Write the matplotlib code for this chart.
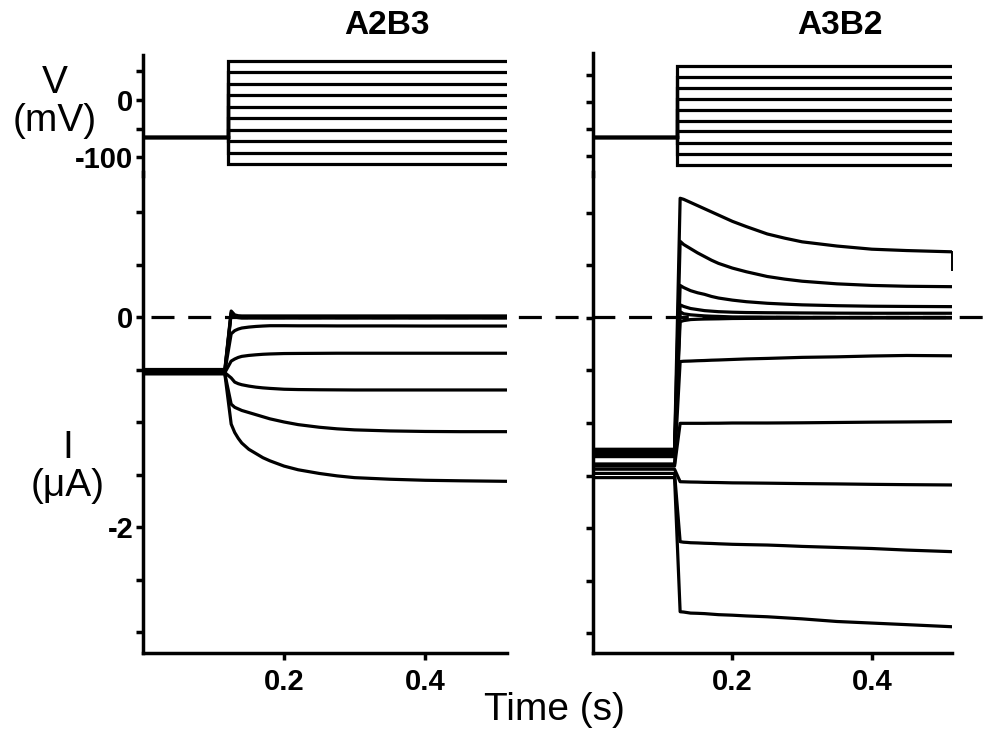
import matplotlib
matplotlib.use('Agg')
import matplotlib.pyplot as plt
from matplotlib.transforms import blended_transform_factory

plt.rcParams['font.family'] = ['Liberation Sans', 'DejaVu Sans']

# ---------------- data ----------------
panel_titles = ['A2B3', 'A3B2']

# voltage protocol (mV)
v_time_left = [0.0, 0.1206, 0.1206, 0.516]
v_hold_left = -64
v_steps_left = [68, 48, 28, 8, -12, -32, -52, -72, -92, -112]

v_time_right = [0.0, 0.121, 0.121, 0.515]
v_hold_right = -65
v_steps_right = [68, 46, 26, 6, -14, -35, -54, -75, -96, -116]

v_ticks = [50, 0, -50, -100]
v_ticklabels_left = ['', '0', '', '-100']

# current traces (uA)
i_time_left = [0.0, 0.116, 0.125, 0.13, 0.135, 0.14, 0.15, 0.16, 0.17, 0.18, 0.2, 0.22,
               0.25, 0.275, 0.3, 0.35, 0.4, 0.45, 0.516]
i_left_1 = [-0.50, -0.50, 0.057, 0.02, 0.012, 0.01, 0.01, 0.01, 0.01, 0.01, 0.01, 0.01,
            0.01, 0.01, 0.01, 0.01, 0.01, 0.01, 0.01]
i_left_2 = [-0.51, -0.51, 0.04, 0.01, 0.004, 0.0, 0.0, 0.0, 0.0, 0.0, 0.0, 0.0,
            0.0, 0.0, 0.0, 0.0, 0.0, 0.0, 0.0]
i_left_3 = [-0.52, -0.52, 0.03, 0.0, -0.006, -0.01, -0.01, -0.01, -0.01, -0.01, -0.01, -0.01,
            -0.01, -0.01, -0.01, -0.01, -0.01, -0.01, -0.01]
i_left_4 = [-0.52, -0.52, -0.16, -0.13, -0.115, -0.105, -0.096, -0.09, -0.086, -0.083, -0.083, -0.084,
            -0.084, -0.085, -0.085, -0.085, -0.086, -0.086, -0.086]
i_left_5 = [-0.53, -0.53, -0.42, -0.40, -0.385, -0.375, -0.366, -0.36, -0.355, -0.352, -0.348, -0.347,
            -0.346, -0.345, -0.345, -0.345, -0.345, -0.345, -0.345]
i_left_6 = [-0.53, -0.53, -0.58, -0.62, -0.635, -0.645, -0.658, -0.668, -0.675, -0.68, -0.688, -0.691,
            -0.693, -0.694, -0.695, -0.695, -0.695, -0.695, -0.695]
i_left_7 = [-0.54, -0.54, -0.83, -0.86, -0.875, -0.89, -0.91, -0.93, -0.95, -0.97, -1.00, -1.025,
            -1.05, -1.065, -1.075, -1.085, -1.09, -1.092, -1.092]
i_left_8 = [-0.54, -0.54, -1.02, -1.10, -1.155, -1.20, -1.26, -1.30, -1.34, -1.37, -1.42, -1.455,
            -1.49, -1.513, -1.53, -1.545, -1.555, -1.56, -1.565]
i_traces_left = [i_left_1, i_left_2, i_left_3, i_left_4, i_left_5, i_left_6, i_left_7, i_left_8]

i_time_right = [0.0, 0.117, 0.125, 0.13, 0.135, 0.14, 0.15, 0.16, 0.17, 0.18, 0.2, 0.22,
                0.25, 0.275, 0.3, 0.35, 0.4, 0.45, 0.515]
i_right_1 = [-1.25, -1.25, 1.14, 1.13, 1.115, 1.10, 1.07, 1.04, 1.01, 0.98, 0.92, 0.87,
             0.80, 0.76, 0.725, 0.685, 0.655, 0.642, 0.63]
i_right_2 = [-1.27, -1.27, 0.73, 0.70, 0.68, 0.66, 0.62, 0.585, 0.55, 0.52, 0.475, 0.44,
             0.395, 0.37, 0.35, 0.325, 0.31, 0.302, 0.298]
i_right_3 = [-1.29, -1.29, 0.31, 0.29, 0.275, 0.26, 0.24, 0.225, 0.205, 0.19, 0.17, 0.155,
             0.14, 0.132, 0.125, 0.117, 0.112, 0.11, 0.108]
i_right_4 = [-1.30, -1.30, 0.125, 0.11, 0.10, 0.09, 0.08, 0.07, 0.065, 0.06, 0.055, 0.052,
             0.05, 0.049, 0.048, 0.046, 0.045, 0.045, 0.045]
i_right_5 = [-1.31, -1.31, 0.06, 0.04, 0.035, 0.03, 0.025, 0.02, 0.017, 0.015, 0.01, 0.009,
             0.008, 0.007, 0.006, 0.005, 0.005, 0.005, 0.005]
i_right_6 = [-1.32, -1.32, -0.035, -0.025, -0.02, -0.015, -0.012, -0.01, -0.009, -0.008, -0.005, -0.004,
             -0.003, -0.002, -0.002, 0.0, 0.0, 0.0, 0.0]
i_right_7 = [-1.39, -1.39, -0.415, -0.412, -0.411, -0.41, -0.407, -0.405, -0.402, -0.40, -0.395, -0.39,
             -0.385, -0.38, -0.375, -0.37, -0.362, -0.357, -0.36]
i_right_8 = [-1.41, -1.41, -1.003, -1.003, -1.003, -1.003, -1.003, -1.003, -1.002, -1.002, -1.0, -1.0,
             -1.0, -0.999, -0.998, -0.995, -0.992, -0.99, -0.987]
i_right_9 = [-1.44, -1.44, -1.559, -1.56, -1.561, -1.562, -1.563, -1.565, -1.566, -1.567, -1.57, -1.571,
             -1.573, -1.575, -1.577, -1.58, -1.584, -1.587, -1.59]
i_right_10 = [-1.48, -1.48, -2.13, -2.135, -2.137, -2.14, -2.142, -2.145, -2.147, -2.15, -2.155, -2.158,
              -2.162, -2.168, -2.175, -2.185, -2.195, -2.21, -2.225]
i_right_11 = [-1.52, -1.52, -2.797, -2.80, -2.805, -2.81, -2.812, -2.815, -2.82, -2.825, -2.83, -2.837,
              -2.845, -2.855, -2.865, -2.89, -2.905, -2.92, -2.94]
i_traces_right = [i_right_1, i_right_2, i_right_3, i_right_4, i_right_5, i_right_6,
                  i_right_7, i_right_8, i_right_9, i_right_10, i_right_11]
# end-of-sweep artefact on the largest A3B2 trace
i_tail_time_right = [0.515, 0.515]
i_tail_right = [0.63, 0.455]

i_ticks = [1.0, 0.5, 0.0, -0.5, -1.0, -1.5, -2.0, -2.5, -3.0]
i_ticklabels_left = ['', '', '0', '', '', '', '-2', '', '']
t_ticks = [0.2, 0.4]
t_ticklabels = ['0.2', '0.4']

# ---------------- figure ----------------
W, H = 987, 734
fig = plt.figure(figsize=(W / 100, H / 100), dpi=100)


def fx(px):
    return px / W


def fy(py):
    return 1 - py / H


LW = 2.3
SPW = 2.5
TICKFS = 21


def style_axes(ax, bottom=True):
    for s in ['top', 'right']:
        ax.spines[s].set_visible(False)
    ax.spines['left'].set_linewidth(SPW)
    ax.spines['bottom'].set_linewidth(SPW)
    if not bottom:
        ax.spines['bottom'].set_visible(False)
        ax.tick_params(axis='x', bottom=False, labelbottom=False)
    ax.tick_params(axis='both', length=5, width=SPW, pad=2, labelsize=TICKFS)
    for lab in ax.get_xticklabels() + ax.get_yticklabels():
        lab.set_fontweight('bold')
    ax.set_facecolor('none')


VBOT = 176  # voltage axes overlap the current axes slightly so the spine is continuous
cols = [
    dict(x0=143, x1=507, vtop=55, vlim=(-132.4, 78.4), ilim=(-3.2, 1.381), xlim=(0, 0.516),
         vt=v_time_left, vh=v_hold_left, vs=v_steps_left, vlab=v_ticklabels_left,
         it=i_time_left, itr=i_traces_left, ilab=i_ticklabels_left, title=panel_titles[0], tx=387),
    dict(x0=593, x1=952, vtop=53, vlim=(-136.4, 91.3), ilim=(-3.19, 1.39), xlim=(0, 0.515),
         vt=v_time_right, vh=v_hold_right, vs=v_steps_right, vlab=None,
         it=i_time_right, itr=i_traces_right, ilab=None, title=panel_titles[1], tx=840),
]

axes_I = []
for c in cols:
    # current axes
    axI = fig.add_axes([fx(c['x0']), fy(653), fx(c['x1'] - c['x0']), (653 - 172) / H])
    for tr in c['itr']:
        axI.plot(c['it'], tr, color='black', lw=LW)
    axI.set_xlim(*c['xlim'])
    axI.set_ylim(*c['ilim'])
    axI.set_yticks(i_ticks)
    axI.set_yticklabels(c['ilab'] if c['ilab'] else [''] * len(i_ticks))
    axI.set_xticks(t_ticks)
    axI.set_xticklabels(t_ticklabels)
    style_axes(axI, bottom=True)
    axI.tick_params(axis='x', pad=6)
    axes_I.append(axI)

    # voltage axes
    axV = fig.add_axes([fx(c['x0']), fy(VBOT), fx(c['x1'] - c['x0']), (VBOT - c['vtop']) / H])
    for v in c['vs']:
        axV.plot(c['vt'], [c['vh'], c['vh'], v, v], color='black', lw=LW, solid_joinstyle='miter')
    axV.set_xlim(*c['xlim'])
    axV.set_ylim(*c['vlim'])
    axV.set_yticks(v_ticks)
    axV.set_yticklabels(c['vlab'] if c['vlab'] else [''] * len(v_ticks))
    style_axes(axV, bottom=False)

    fig.text(fx(c['tx']), fy(26), c['title'], ha='center', va='center',
             fontsize=24, fontweight='bold')

axes_I[1].plot(i_tail_time_right, i_tail_right, color='black', lw=1.4, clip_on=False)

# dashed zero-current line across the figure
trans = blended_transform_factory(fig.transFigure, axes_I[0].transData)
axes_I[0].plot([fx(151), 1.0], [0, 0], transform=trans, color='black', lw=LW,
               ls=(0, (7.2, 4.3)), clip_on=False)

# axis labels
fig.text(fx(55), fy(102), 'V\n(mV)', ha='center', va='center', fontsize=28, linespacing=1.05)
fig.text(fx(68), fy(467), 'I\n(\u03bcA)', ha='center', va='center', fontsize=28, linespacing=1.05)
fig.text(fx(554), fy(710), 'Time (s)', ha='center', va='center', fontsize=28)

fig.savefig('out.png', dpi=100)
